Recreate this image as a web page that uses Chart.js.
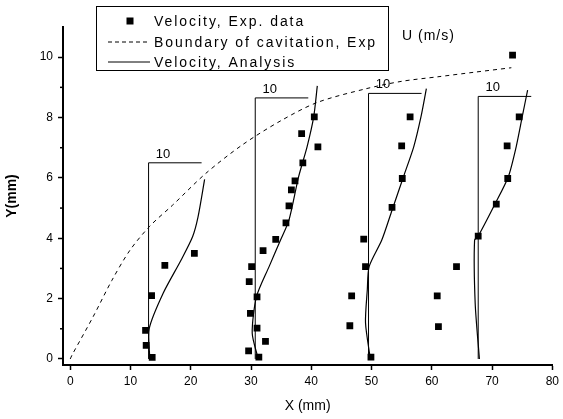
<!DOCTYPE html>
<html>
<head>
<meta charset="utf-8">
<script src="https://cdn.jsdelivr.net/npm/chart.js@4/dist/chart.umd.min.js"></script>
<style>
  html, body { margin: 0; padding: 0; background: #fff; }
  #wrap { width: 563px; height: 419px; }
</style>
</head>
<body>
<div id="wrap"><canvas id="chart"></canvas></div>
<script>
const xTicks = [0, 10, 20, 30, 40, 50, 60, 70, 80];
const yTicks = [0, 2, 4, 6, 8, 10];
const yMinorTicks = [1, 3, 5, 7, 9];

// measured velocity, one array per station  [x (mm), y (mm)]
const exp1 = [[13.6, 0.05], [12.6, 0.45], [12.5, 0.95], [13.5, 2.1], [15.7, 3.1], [20.6, 3.5]];
const exp2 = [[31.3, 0.06], [29.6, 0.27], [32.4, 0.58], [31.0, 1.02], [29.9, 1.51], [31.0, 2.06],
              [29.7, 2.56], [30.1, 3.06], [32.0, 3.59], [34.1, 3.96], [35.8, 4.51], [36.3, 5.07],
              [36.7, 5.6], [37.3, 5.9], [38.6, 6.5], [38.4, 7.47], [41.1, 7.03], [40.5, 8.02]];
const exp3 = [[49.9, 0.06], [46.4, 1.1], [46.7, 2.09], [49.0, 3.06], [48.7, 3.97], [53.4, 5.02],
              [55.1, 5.98], [55.0, 7.06], [56.4, 8.02]];
const exp4 = [[61.1, 1.07], [60.9, 2.09], [64.1, 3.06], [67.7, 4.07], [70.7, 5.13], [72.6, 5.98],
              [72.5, 7.06], [74.5, 8.02], [73.4, 10.07]];

// boundary of cavitation (experiment)
const boundary = [[0, 0], [0.3, 0.13], [3.8, 1.4], [6.9, 2.6], [9.9, 3.6], [13.2, 4.4], [17, 5.1],
                  [22.5, 6.15], [28.6, 7.1], [35, 7.9], [41, 8.5], [49, 8.95], [55, 9.2],
                  [61, 9.35], [67, 9.5], [73.2, 9.65]];

// analysed velocity profiles
const ana1 = [[13.2, 0], [13.1, 1.0], [15.4, 2.17], [18.4, 3.28], [20.3, 4.05], [21.2, 4.7], [22.3, 5.95]];
const ana2 = [[31.2, 0], [30.2, 0.85], [30.9, 2.06], [33.0, 3.06], [34.9, 3.94], [36.3, 4.6],
              [37.9, 6.04], [39.3, 7.03], [40.4, 8.02], [41.0, 9.05]];
const ana3 = [[49.8, 0], [49.0, 1.2], [49.3, 2.3], [49.6, 3.06], [51.7, 3.94], [53.4, 4.93],
              [55.3, 6.04], [57.0, 7.03], [58.2, 8.02], [59.1, 8.96]];
const ana4 = [[67.9, 0], [67.2, 1.84], [67.1, 3.94], [67.7, 4.07], [70.4, 5.1], [72.7, 6.04],
              [74.0, 7.03], [75.0, 8.02], [75.9, 8.91]];

// velocity scale bracket at each station
const stationX = [13.0, 30.7, 49.5, 67.7];
const bracketTop = [6.5, 8.65, 8.8, 8.7];
const scaleLen = 8.8;
const scaleLabel = '10';

const FONT = "'Liberation Sans', Arial, sans-serif";
const toXY = pts => pts.map(([x, y]) => ({ x, y }));

const lineStyle = {
    showLine: true,
    borderColor: '#000',
    borderWidth: 1.2,
    pointRadius: 0,
    tension: 0.25,
    fill: false
};

const datasets = [
    {
        label: 'Velocity, Exp. data',
        data: toXY([...exp1, ...exp2, ...exp3, ...exp4]),
        showLine: false,
        pointStyle: 'rect',
        pointRadius: 4.8,
        backgroundColor: '#000',
        borderColor: '#000',
        borderWidth: 0
    },
    {
        label: 'Boundary of cavitation, Exp',
        data: toXY(boundary),
        ...lineStyle,
        borderWidth: 1,
        borderDash: [4, 4],
        tension: 0.3
    },
    ...[ana1, ana2, ana3, ana4].map(a => ({
        label: 'Velocity, Analysis',
        data: toXY(a),
        ...lineStyle
    })),
    ...stationX.map((x0, i) => ({
        label: 'scale',
        data: [{ x: x0, y: 0 }, { x: x0, y: bracketTop[i] }, { x: x0 + scaleLen, y: bracketTop[i] }],
        ...lineStyle,
        tension: 0,
        borderWidth: 1
    }))
];

const decorations = {
    id: 'decorations',
    afterDraw(chart) {
        const { ctx, chartArea, scales: { x, y } } = chart;
        ctx.save();
        ctx.fillStyle = '#000';
        ctx.strokeStyle = '#000';

        // minor ticks on y axis
        ctx.lineWidth = 1.5;
        yMinorTicks.forEach(v => {
            const py = y.getPixelForValue(v);
            ctx.beginPath();
            ctx.moveTo(chartArea.left - 3, py);
            ctx.lineTo(chartArea.left, py);
            ctx.stroke();
        });

        // "10" scale labels
        ctx.font = '13px ' + FONT;
        ctx.textAlign = 'center';
        ctx.textBaseline = 'bottom';
        stationX.forEach((x0, i) => {
            ctx.fillText(scaleLabel, x.getPixelForValue(x0 + 2.4), y.getPixelForValue(bracketTop[i]) - 2);
        });

        // unit note
        ctx.font = '14px ' + FONT;
        ctx.textAlign = 'left';
        ctx.textBaseline = 'middle';
        if ('letterSpacing' in ctx) ctx.letterSpacing = '1px';
        ctx.fillText('U (m/s)', 402, 36);

        // legend
        const box = { left: 96.5, top: 6.5, width: 292, height: 64 };
        ctx.letterSpacing = '0px';
        ctx.lineWidth = 1;
        ctx.strokeRect(box.left, box.top, box.width, box.height);
        const rows = [21, 42, 62];
        const textX = 154;
        ctx.fillRect(126.5, rows[0] - 3.5, 7, 7);
        ctx.setLineDash([4, 3]);
        ctx.beginPath();
        ctx.moveTo(108, rows[1]);
        ctx.lineTo(150, rows[1]);
        ctx.stroke();
        ctx.setLineDash([]);
        ctx.beginPath();
        ctx.moveTo(108, rows[2]);
        ctx.lineTo(150, rows[2]);
        ctx.stroke();

        const labels = [datasets[0].label, datasets[1].label, datasets[2].label];
        ctx.font = '14px ' + FONT;
        const natural = ctx.measureText(labels[1]).width;
        const spacing = Math.max(0, (223 - natural) / labels[1].length);
        if ('letterSpacing' in ctx) ctx.letterSpacing = spacing.toFixed(2) + 'px';
        labels.forEach((t, i) => ctx.fillText(t, textX, rows[i] + 1));
        ctx.restore();
    }
};

new Chart(document.getElementById('chart'), {
    type: 'scatter',
    data: { datasets },
    options: {
        responsive: true,
        maintainAspectRatio: false,
        animation: false,
        layout: { padding: { top: 27, right: 8, left: 0, bottom: 0 } },
        plugins: {
            legend: { display: false },
            tooltip: { enabled: false }
        },
        scales: {
            x: {
                type: 'linear',
                min: -1.2,
                max: 80,
                afterBuildTicks: s => { s.ticks = xTicks.map(v => ({ value: v })); },
                afterFit: s => { s.height = 54; },
                grid: { drawOnChartArea: false, drawTicks: true, tickLength: 5, tickColor: '#000', tickWidth: 1.5 },
                border: { color: '#000', width: 2 },
                ticks: { color: '#000', font: { family: FONT, size: 12 }, padding: 4, maxRotation: 0 },
                title: { display: true, text: 'X (mm)', color: '#000', font: { family: FONT, size: 14 } }
            },
            y: {
                type: 'linear',
                min: -0.2,
                max: 11,
                afterBuildTicks: s => { s.ticks = yTicks.map(v => ({ value: v })); },
                afterFit: s => { s.width = 63; },
                grid: { drawOnChartArea: false, drawTicks: true, tickLength: 5, tickColor: '#000', tickWidth: 1.5 },
                border: { color: '#000', width: 2 },
                ticks: { color: '#000', font: { family: FONT, size: 12 }, padding: 5 },
                title: { display: true, text: 'Y(mm)', color: '#000', font: { family: FONT, size: 14, weight: 'bold' } }
            }
        }
    },
    plugins: [decorations]
});
</script>
</body>
</html>
